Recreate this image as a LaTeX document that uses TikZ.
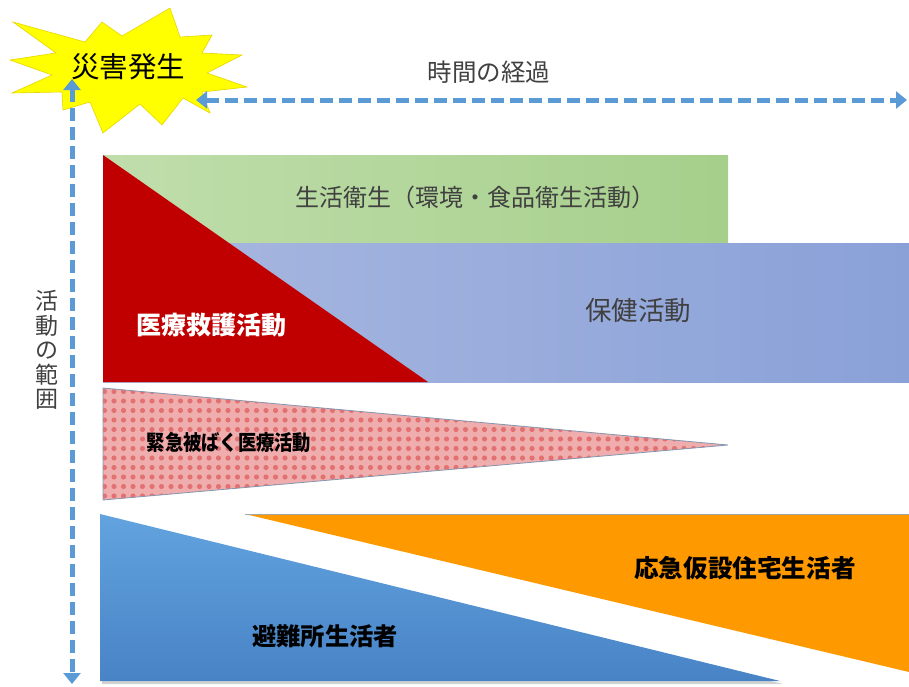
\documentclass[tikz,border=0pt]{standalone}
\usepackage{fontspec}
\setmainfont{Noto Sans CJK JP}
\usetikzlibrary{arrows.meta,patterns.meta}
\definecolor{axisblue}{HTML}{5B9BD5}
\definecolor{txtgray}{HTML}{404040}
\definecolor{redfill}{HTML}{C00000}
\definecolor{orangefill}{HTML}{FF9900}
\definecolor{pinkbase}{HTML}{F0ADAD}
\definecolor{pinkdot}{HTML}{E27272}
\definecolor{edgegray}{HTML}{8496B0}
\definecolor{greenL}{HTML}{C0DEAC}
\definecolor{greenR}{HTML}{A6CF8B}
\definecolor{blueL}{HTML}{A9B8E0}
\definecolor{blueR}{HTML}{8AA1D8}
\definecolor{skyT}{HTML}{62A3DF}
\definecolor{skyB}{HTML}{4883C6}
\definecolor{staryellow}{HTML}{FFFF00}
\definecolor{staredge}{HTML}{E8D400}
\tikzset{
  axis/.style={draw=axisblue, line width=5pt, dash pattern=on 13pt off 6pt,
    {Triangle[width=17pt,length=11pt]}-{Triangle[width=17pt,length=11pt]}},
  lbl/.style={inner sep=0pt, text=txtgray},
  blbl/.style={inner sep=0pt, text=black},
}
\begin{document}
\begin{tikzpicture}[x=1pt,y=-1pt]
\useasboundingbox (0,0) rectangle (909,686);
% green band
\shade[left color=greenL, right color=greenR] (103,155) rectangle (728,243);
% blue band
\shade[left color=blueL, right color=blueR] (103,243) rectangle (909,382);
% red triangle
\fill[redfill] (103,155) -- (103,382) -- (428,382) -- cycle;
% pink patterned triangle
\fill[pinkbase] (103,388) -- (103,500) -- (728,445) -- cycle;
\fill[pattern={Dots[distance=9.5pt,radius=2.6pt]}, pattern color=pinkdot] (103,388) -- (103,500) -- (728,445) -- cycle;
\draw[edgegray, line width=0.8pt] (103,388) -- (103,500) -- (728,445) -- cycle;
% orange
\fill[orangefill] (245,514) -- (909,514) -- (909,672) -- cycle;
\draw[gray!70, line width=0.6pt] (245,514) -- (909,514);
% sky blue triangle with shadow
\fill[gray!35] (102,517) -- (102,684) -- (783,684) -- cycle;
\shade[top color=skyT, bottom color=skyB] (100,514) -- (100,681) -- (780,681) -- cycle;
% star
\filldraw[fill=staryellow, draw=staredge, line width=0.6pt]
  (13,22) -- (85,42) -- (102,22) -- (122,36) -- (170,8) -- (180,37) -- (212,35)
  -- (202,53) -- (242,55) -- (207,73) -- (247,87) -- (202,92) -- (210,113)
  -- (183,98) -- (162,125) -- (140,104) -- (103,133) -- (90,102) -- (63,110)
  -- (62,92) -- (12,93) -- (52,75) -- (10,60) -- (56,53) -- cycle;
\node[inner sep=0pt, text=black, font=\fontsize{28.5}{30}\selectfont] (disaster) at (128,67) {災害発生};
% axes
\coordinate (hs) at (196,100);
\coordinate (he) at (907,100);
\draw[axis] (hs) -- (he);
\coordinate (vs) at (72,79);
\coordinate (ve) at (72,684);
\draw[axis] (vs) -- (ve);
\node[lbl, font=\fontsize{24.5}{26}\selectfont] (time) at (489,72) {時間の経過};
\node[lbl, font=\fontsize{23}{24.5}\selectfont, align=center] (range) at (47,350) {活\\動\\の\\範\\囲};
% labels
\node[lbl, font=\fontsize{24}{26}\selectfont] (seikatsu) at (475,197) {生活衛生（環境・食品衛生活動）};
\node[lbl, font=\fontsize{26.5}{28}\selectfont] (hoken) at (638,311) {保健活動};
\node[inner sep=0pt, text=white, font=\bfseries\fontsize{25}{27}\selectfont] (iryo) at (211,325) {医療救護活動};
\node[blbl, font=\bfseries\fontsize{21}{22}\selectfont, xscale=0.87, transform shape] (hibaku) at (229,443) {緊急被ばく医療活動};
\node[blbl, font=\bfseries\fontsize{24.3}{26}\selectfont] (hinan) at (325,636) {避難所生活者};
\node[blbl, font=\bfseries\fontsize{24.6}{26}\selectfont] (kasetsu) at (745,568) {応急仮設住宅生活者};
\end{tikzpicture}
\end{document}
